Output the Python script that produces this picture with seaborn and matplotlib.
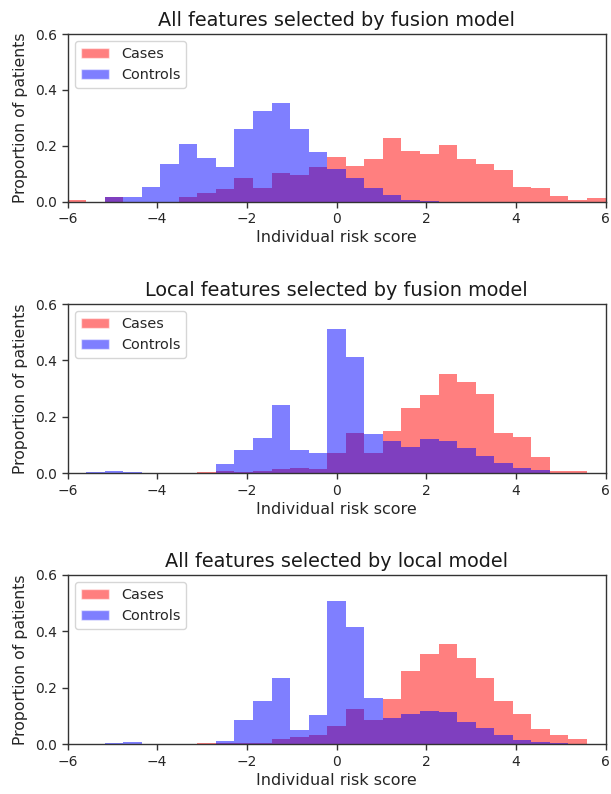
import numpy as np
import pandas as pd
import matplotlib
matplotlib.use("Agg")
import matplotlib.pyplot as plt
from matplotlib.patches import Patch
import seaborn as sns

# 29 equal-width bins between -6 and 6
n_bins = 29
bin_range = (-6, 6)
bin_edges = np.linspace(bin_range[0], bin_range[1], n_bins + 1)
bin_centers = (bin_edges[:-1] + bin_edges[1:]) / 2

titles = ["All features selected by fusion model",
          "Local features selected by fusion model",
          "All features selected by local model"]

cases_1 = [0.007, 0, 0.015, 0, 0, 0, 0.015, 0.032, 0.044, 0.084, 0.048, 0.104, 0.096, 0.125,
           0.161, 0.129, 0.152, 0.227, 0.183, 0.172, 0.203, 0.152, 0.136, 0.115, 0.054, 0.048,
           0.022, 0.007, 0.012]
controls_1 = [0, 0, 0.015, 0.015, 0.053, 0.134, 0.208, 0.155, 0.123, 0.259, 0.323, 0.355, 0.262,
              0.179, 0.117, 0.084, 0.048, 0.024, 0.007, 0.003, 0, 0, 0, 0, 0, 0, 0, 0, 0]

cases_2 = [0, 0, 0, 0, 0, 0, 0, 0.004, 0.009, 0.006, 0.008, 0.014, 0.019, 0.014, 0.073, 0.144,
           0.073, 0.150, 0.230, 0.279, 0.351, 0.322, 0.280, 0.141, 0.130, 0.058, 0.007, 0.007, 0]
controls_2 = [0, 0.004, 0.008, 0.004, 0, 0, 0, 0, 0.031, 0.082, 0.125, 0.241, 0.084, 0.072, 0.512,
              0.413, 0.140, 0.116, 0.092, 0.122, 0.115, 0.091, 0.062, 0.036, 0.020, 0.011, 0.002,
              0, 0]

cases_3 = [0, 0, 0, 0, 0, 0, 0, 0.004, 0.006, 0.003, 0.004, 0.020, 0.025, 0.034, 0.065, 0.125,
           0.085, 0.160, 0.259, 0.319, 0.356, 0.305, 0.234, 0.154, 0.108, 0.054, 0.033, 0.019, 0]
controls_3 = [0, 0, 0.006, 0.008, 0, 0, 0, 0, 0.012, 0.086, 0.152, 0.233, 0.052, 0.105, 0.506,
              0.415, 0.164, 0.094, 0.109, 0.119, 0.113, 0.079, 0.056, 0.033, 0.015, 0.009, 0.004,
              0, 0]

panels = [(cases_1, controls_1), (cases_2, controls_2), (cases_3, controls_3)]

x_ticks = [-6, -4, -2, 0, 2, 4, 6]
y_ticks = [0.0, 0.2, 0.4, 0.6]

sns.set_style("ticks")
plt.rcParams['font.family'] = ['DejaVu Sans']

fig = plt.figure(figsize=(6.11, 7.94), dpi=100)
boxes = [(0.746, 0.957), (0.404, 0.617), (0.0626, 0.276)]
left, right = 0.1105, 0.991

for (cases, controls), title, (b, t) in zip(panels, titles, boxes):
    ax = fig.add_axes([left, b, right - left, t - b])
    for vals, col in [(cases, "red"), (controls, "blue")]:
        df = pd.DataFrame({"score": bin_centers, "w": vals})
        sns.histplot(data=df, x="score", weights="w", bins=n_bins, binrange=bin_range,
                     stat="count", color=col, alpha=0.5, linewidth=0, ax=ax)
    ax.set_xlim(-6, 6)
    ax.set_ylim(0, 0.6)
    ax.set_xticks(x_ticks)
    ax.set_yticks(y_ticks)
    ax.set_xticklabels([f"{v}".replace("-", "\u2212") for v in x_ticks])
    ax.set_yticklabels([f"{v:.1f}" for v in y_ticks])
    ax.tick_params(labelsize=10, length=4, width=1, color="0.2", labelcolor="0.15")
    ax.set_xlabel("Individual risk score", fontsize=11.5, color="0.15", labelpad=3)
    ax.set_ylabel("Proportion of patients", fontsize=11.3, color="0.15", labelpad=5)
    ax.set_title(title, fontsize=13.9, pad=6, color="0.1")
    for s in ax.spines.values():
        s.set_visible(True)
        s.set_color("0.2")
        s.set_linewidth(1)
    handles = [Patch(facecolor="red", alpha=0.5, label="Cases"),
               Patch(facecolor="blue", alpha=0.5, label="Controls")]
    ax.legend(handles=handles, loc="upper left", fontsize=10.4, frameon=True,
              fancybox=True, framealpha=0.8, edgecolor="0.8")

fig.savefig("out.png", dpi=100)
